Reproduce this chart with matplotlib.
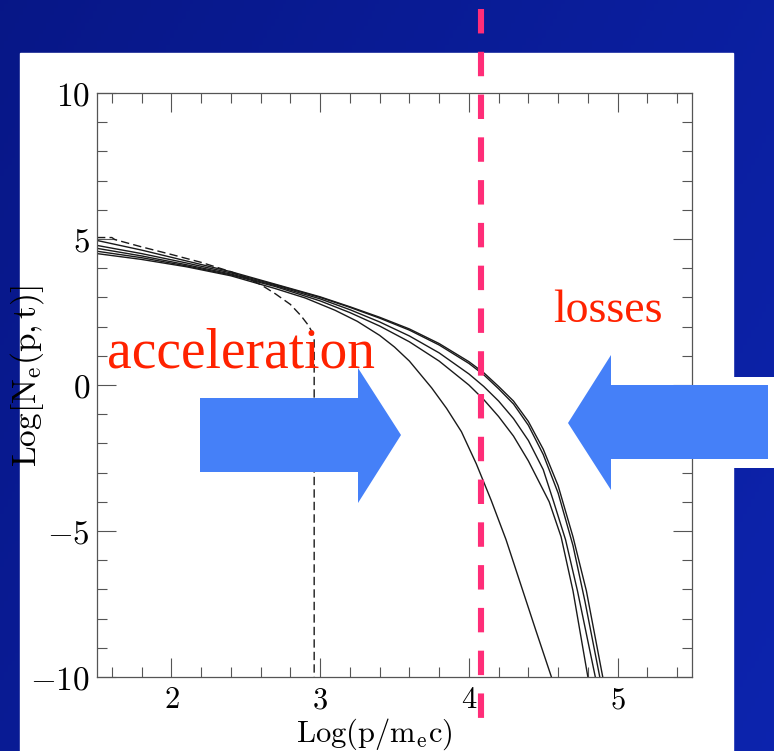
import numpy as np
import matplotlib.pyplot as plt
from matplotlib.patches import Polygon, Rectangle
from matplotlib.ticker import MultipleLocator

plt.rcParams['mathtext.fontset'] = 'cm'

W, H = 774, 751

# spectra: Log(p/m_e c) vs Log N_e(p,t)
x_b1 = [1.5, 1.8, 2.1, 2.4, 2.7, 3.0, 3.2, 3.4, 3.6, 3.8, 4.0, 4.1, 4.2, 4.3, 4.4, 4.5, 4.6, 4.7, 4.79, 4.9]
y_b1 = [4.95, 4.62, 4.25, 3.88, 3.45, 3.02, 2.68, 2.32, 1.92, 1.42, 0.8, 0.42, -0.05, -0.55, -1.25, -2.2, -3.45, -5.2, -7.05, -10.0]

x_b2 = [1.5, 1.8, 2.1, 2.4, 2.7, 3.0, 3.2, 3.4, 3.6, 3.8, 4.0, 4.1, 4.2, 4.3, 4.4, 4.5, 4.6, 4.7, 4.78, 4.88]
y_b2 = [4.78, 4.5, 4.18, 3.84, 3.43, 3.0, 2.66, 2.29, 1.88, 1.37, 0.74, 0.35, -0.13, -0.65, -1.38, -2.38, -3.7, -5.5, -7.4, -10.0]

x_b3 = [1.5, 1.8, 2.1, 2.4, 2.7, 3.0, 3.2, 3.4, 3.6, 3.8, 4.0, 4.1, 4.2, 4.3, 4.4, 4.5, 4.57, 4.65, 4.73, 4.85]
y_b3 = [4.68, 4.42, 4.12, 3.8, 3.4, 2.95, 2.58, 2.16, 1.68, 1.1, 0.38, -0.05, -0.55, -1.15, -1.9, -2.9, -4.0, -5.3, -7.05, -10.0]

x_m1 = [1.5, 1.8, 2.1, 2.4, 2.7, 3.0, 3.2, 3.4, 3.6, 3.8, 4.0, 4.1, 4.2, 4.3, 4.4, 4.54, 4.62, 4.7, 4.8]
y_m1 = [4.58, 4.36, 4.08, 3.77, 3.37, 2.88, 2.48, 2.02, 1.48, 0.82, 0.0, -0.5, -1.08, -1.75, -2.6, -4.0, -5.2, -7.05, -10.0]

x_s = [1.5, 1.8, 2.1, 2.4, 2.7, 2.9, 3.1, 3.25, 3.4, 3.5, 3.6, 3.75, 3.85, 3.95, 4.05, 4.15, 4.25, 4.35, 4.45, 4.555]
y_s = [4.5, 4.3, 4.05, 3.74, 3.3, 2.98, 2.56, 2.18, 1.7, 1.3, 0.82, -0.1, -0.8, -1.6, -2.7, -3.95, -5.3, -6.85, -8.4, -10.0]

x_dash = [1.5, 1.6, 1.62, 1.8, 2.0, 2.2, 2.4, 2.5, 2.6, 2.7, 2.8, 2.87, 2.92, 2.95, 2.96, 2.96]
y_dash = [5.05, 5.05, 4.98, 4.73, 4.47, 4.2, 3.88, 3.68, 3.44, 3.12, 2.76, 2.38, 2.05, 1.78, 1.55, -10.0]

solid_curves = [(x_b1, y_b1), (x_b2, y_b2), (x_b3, y_b3), (x_m1, y_m1), (x_s, y_s)]

xticks = [2, 3, 4, 5]
yticks = [-10, -5, 0, 5, 10]

fig = plt.figure(figsize=(W / 100, H / 100), dpi=100)

# slide background
bg = fig.add_axes([0, 0, 1, 1])
bg.set_axis_off()
gx, gy = np.meshgrid(np.linspace(0, 1, 200), np.linspace(0, 1, 200))
t = np.clip(0.65 * gx + 0.35 * gy, 0, 1)[..., None]
c0 = np.array([0.03, 0.09, 0.53])
c1 = np.array([0.05, 0.14, 0.68])
bg.imshow(c0 * (1 - t) + c1 * t, extent=[0, W, H, 0], aspect='auto')
bg.add_patch(Rectangle((20, 53), 713, H - 53, color='white'))
bg.set_xlim(0, W)
bg.set_ylim(H, 0)

# the plot
ax = fig.add_axes([97 / W, 1 - 677 / H, 595 / W, 584 / H])
for xs, ys in solid_curves:
    ax.plot(xs, ys, color='#1a1a1a', lw=1.0)
ax.plot(x_dash, y_dash, color='#1a1a1a', lw=1.0, dashes=(6, 3))

ax.set_xlim(1.5, 5.5)
ax.set_ylim(-10, 10)
ax.set_xticks(xticks)
ax.set_yticks(yticks)
ax.set_xticklabels([f'${v}$' for v in xticks], fontsize=22)
ax.set_yticklabels([f'${v}$' for v in yticks], fontsize=24)
ax.xaxis.set_minor_locator(MultipleLocator(0.2))
ax.yaxis.set_minor_locator(MultipleLocator(1))
ax.tick_params(which='both', direction='in', top=True, right=True, color='#555555', width=0.8)
ax.tick_params(which='major', length=14)
ax.tick_params(which='minor', length=7)
ax.tick_params(axis='x', pad=6)
ax.tick_params(axis='y', pad=5)
for sp in ax.spines.values():
    sp.set_color('#555555')
    sp.set_linewidth(0.9)

fig.text(374 / W, 1 - 734 / H, r'$\mathrm{Log(p/m_e c)}$', fontsize=22, ha='center', va='center')
fig.text(27 / W, 1 - 376 / H, r'$\mathrm{Log[N_e(p,t)]}$', fontsize=24, ha='center', va='center', rotation=90)

# overlay: dashed marker line, arrows, words
ov = fig.add_axes([0, 0, 1, 1])
ov.set_axis_off()
ov.set_xlim(0, W)
ov.set_ylim(H, 0)
ov.patch.set_alpha(0)

ov.plot([481, 481], [9, 728], color='#FF2D78', lw=4.4, dashes=(4, 3), solid_capstyle='butt', dash_capstyle='butt')

arrow_blue = '#4580F8'
ov.add_patch(Polygon([(200, 398), (358, 398), (358, 368), (401, 435), (358, 503), (358, 472), (200, 472)],
                     closed=True, color=arrow_blue, lw=0))
ov.add_patch(Rectangle((730, 377), 44, 91, color='white', lw=0))
ov.add_patch(Polygon([(768, 385), (611, 385), (611, 355), (568, 423), (611, 490), (611, 459), (768, 459)],
                     closed=True, color=arrow_blue, lw=0))

ov.text(107, 367, 'acceleration', color='#FF2200', fontsize=40, family='Liberation Serif', va='baseline', ha='left')
ov.text(553, 322, 'losses', color='#FF2200', fontsize=33, family='Liberation Serif', va='baseline', ha='left')

fig.savefig('out.png', dpi=100)
